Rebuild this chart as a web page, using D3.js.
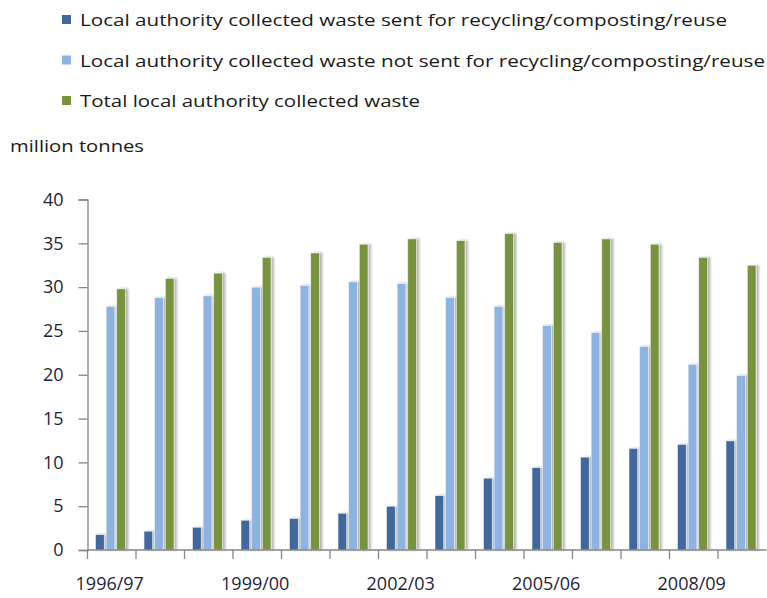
<!DOCTYPE html>
<html>
<head>
<meta charset="utf-8">
<script src="https://cdn.jsdelivr.net/npm/d3@7"></script>
<style>
  body { margin: 0; background: #fff; }
  svg text { font-family: "Open Sans", "Noto Sans", sans-serif; }
</style>
</head>
<body>
<div id="chart"></div>
<script>
// data
const years = ["1996/97", "1997/98", "1998/99", "1999/00", "2000/01", "2001/02", "2002/03",
  "2003/04", "2004/05", "2005/06", "2006/07", "2007/08", "2008/09", "2009/10"];
const recycled = [1.75, 2.15, 2.6, 3.4, 3.6, 4.2, 5.0, 6.2, 8.2, 9.4, 10.6, 11.6, 12.05, 12.45];
const notRecycled = [27.8, 28.8, 29.0, 30.0, 30.2, 30.6, 30.4, 28.8, 27.8, 25.6, 24.8, 23.2, 21.2, 19.9];
const total = [29.8, 31.0, 31.6, 33.4, 33.9, 34.9, 35.5, 35.3, 36.1, 35.1, 35.5, 34.9, 33.4, 32.5];
const seriesNames = [
  "Local authority collected waste sent for recycling/composting/reuse",
  "Local authority collected waste not sent for recycling/composting/reuse",
  "Total local authority collected waste"
];
const yTicks = [0, 5, 10, 15, 20, 25, 30, 35, 40];
const xLabels = ["1996/97", "1999/00", "2002/03", "2005/06", "2008/09"];

const colors = ["#41689c", "#8db3e2", "#77933c"];
const series = [recycled, notRecycled, total];

const width = 767, height = 598;
const svg = d3.select("#chart").append("svg")
  .attr("width", width).attr("height", height);

const defs = svg.append("defs");
const shadow = defs.append("filter").attr("id", "shadow")
  .attr("x", "-50%").attr("y", "-10%").attr("width", "200%").attr("height", "120%");
shadow.append("feDropShadow")
  .attr("dx", 2.5).attr("dy", 0).attr("stdDeviation", 1.2)
  .attr("flood-color", "#000").attr("flood-opacity", 0.3);

// legend
const legendWidths = [647, 685, 340];
const legend = svg.append("g");
seriesNames.forEach((name, i) => {
  const g = legend.append("g").attr("transform", `translate(62, ${20 + i * 40.5})`);
  g.append("rect").attr("x", 0).attr("y", -5).attr("width", 9).attr("height", 9)
    .attr("fill", colors[i]);
  g.append("text").attr("x", 18).attr("y", 6)
    .attr("font-size", "17px").attr("fill", "#1a1a1a")
    .attr("textLength", legendWidths[i]).attr("lengthAdjust", "spacingAndGlyphs")
    .text(name);
});

svg.append("text").attr("x", 10).attr("y", 152)
  .attr("font-size", "17px").attr("fill", "#1a1a1a")
  .attr("textLength", 134).attr("lengthAdjust", "spacingAndGlyphs")
  .text("million tonnes");

const margin = { left: 87.5, right: 766, top: 199.5, bottom: 550 };

const x = d3.scaleBand().domain(years).range([margin.left, margin.left + 48.5 * years.length]);
const xInner = d3.scaleBand().domain([0, 1, 2]).range([8, 38]).paddingInner(0.18);
const y = d3.scaleLinear().domain([0, 40]).range([margin.bottom, margin.top]);

// bars
const groups = svg.append("g").selectAll("g")
  .data(years)
  .join("g")
  .attr("transform", d => `translate(${x(d)},0)`);

groups.selectAll("rect")
  .data((d, i) => series.map((s, k) => ({ k, v: s[i] })))
  .join("rect")
  .attr("x", d => xInner(d.k))
  .attr("width", xInner.bandwidth())
  .attr("y", d => y(d.v))
  .attr("height", d => y(0) - y(d.v))
  .attr("fill", d => colors[d.k])
  .attr("stroke", "#f2f2f2")
  .attr("stroke-width", 0.6)
  .attr("filter", "url(#shadow)");

// y axis
const yAxis = svg.append("g")
  .attr("transform", `translate(${margin.left},0)`)
  .call(d3.axisLeft(y).tickValues(yTicks).tickSize(9).tickPadding(15));
yAxis.select(".domain").attr("stroke", "#868686").attr("stroke-width", 1.3);
yAxis.selectAll(".tick line").attr("stroke", "#868686").attr("stroke-width", 1.3);
yAxis.selectAll(".tick text")
  .attr("font-size", "18px").attr("fill", "#1f1f3a")
  .attr("font-family", "\"Open Sans\", sans-serif");

// x axis: ticks at category boundaries
const xAxisG = svg.append("g").attr("transform", `translate(0,${margin.bottom})`);
xAxisG.append("line")
  .attr("x1", margin.left).attr("x2", x.range()[1])
  .attr("stroke", "#868686").attr("stroke-width", 1.3);
xAxisG.selectAll("line.tick")
  .data(years)
  .join("line")
  .attr("class", "tick")
  .attr("x1", d => x(d)).attr("x2", d => x(d))
  .attr("y1", 0).attr("y2", 9)
  .attr("stroke", "#868686").attr("stroke-width", 1.3);
xAxisG.selectAll("text")
  .data(xLabels)
  .join("text")
  .attr("x", d => x(d) + x.bandwidth() / 2 - 2)
  .attr("y", 40)
  .attr("text-anchor", "middle")
  .attr("font-size", "18px").attr("fill", "#1f1f3a")
  .text(d => d);
</script>
</body>
</html>
